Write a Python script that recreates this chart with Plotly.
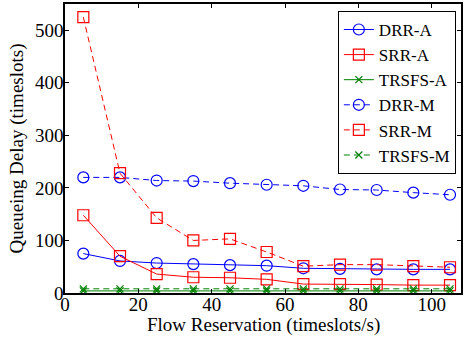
import plotly.graph_objects as go

x = [5, 15, 25, 35, 45, 55, 65, 75, 85, 95, 105]
drr_a = [75, 61, 57, 55, 53, 52, 47, 46, 45, 45, 45]
srr_a = [148, 70, 36, 30, 29, 26, 17, 17, 16, 15, 15]
trsfs_a = [4, 4, 4, 4, 4, 4, 4, 4, 4, 4, 4]
drr_m = [220, 220, 214, 213, 209, 206, 204, 197, 196, 191, 187]
srr_m = [525, 228, 143, 100, 103, 78, 51, 54, 54, 51, 49]
trsfs_m = [8, 8, 8, 8, 8, 8, 8, 8, 8, 8, 8]

x_ticks = [0, 20, 40, 60, 80, 100]
y_ticks = [0, 100, 200, 300, 400, 500]

BLUE = "rgb(0,0,255)"
RED = "rgb(255,0,0)"
GREEN = "rgb(0,128,0)"
DASH = "6px,4px"

series = [
    ("DRR-A", drr_a, BLUE, "solid", "circle-open", 11),
    ("SRR-A", srr_a, RED, "solid", "square-open", 11),
    ("TRSFS-A", trsfs_a, GREEN, "solid", "x-thin-open", 7),
    ("DRR-M", drr_m, BLUE, DASH, "circle-open", 11),
    ("SRR-M", srr_m, RED, DASH, "square-open", 11),
    ("TRSFS-M", trsfs_m, GREEN, DASH, "x-thin-open", 7),
]

fig = go.Figure()
for name, ys, col, dash, sym, sz in series:
    fig.add_trace(go.Scatter(
        x=x, y=ys, name=name, mode="lines+markers",
        line=dict(color=col, width=1, dash=dash),
        marker=dict(symbol=sym, size=sz, color=col, line=dict(color=col, width=1.2)),
    ))

FAM = "Liberation Serif, Times New Roman, serif"
font = dict(family=FAM, size=19, color="black")
axis_common = dict(
    showline=True, linecolor="black", linewidth=1.5, mirror="ticks",
    ticks="inside", ticklen=4, tickcolor="black", showgrid=False, zeroline=False,
    tickfont=font, automargin=False,
)
fig.update_layout(
    width=466, height=339,
    margin=dict(l=65, r=5, t=4, b=46),
    paper_bgcolor="white", plot_bgcolor="white",
    font=font,
    showlegend=True,
    legend=dict(
        x=0.987, y=0.976, xanchor="right", yanchor="top",
        bordercolor="black", borderwidth=1, bgcolor="white",
        font=dict(family=FAM, size=17, color="black"),
        tracegroupgap=0, itemwidth=30,
    ),
    xaxis=dict(range=[0, 108], tickvals=x_ticks, ticklabelstandoff=-7,
               **axis_common),
    yaxis=dict(range=[0, 550], tickvals=y_ticks, ticklabelstandoff=-4,
               title=dict(text="Queueing Delay (timeslots)", font=font, standoff=6),
               **axis_common),
    annotations=[dict(
        text="Flow Reservation (timeslots/s)", xref="paper", yref="paper",
        x=0.5, y=-0.112, xanchor="center", yanchor="middle", showarrow=False,
        font=font,
    )],
)
fig.write_html("out.html", config={"displayModeBar": False},
               post_script="document.body.style.margin='0px';")
